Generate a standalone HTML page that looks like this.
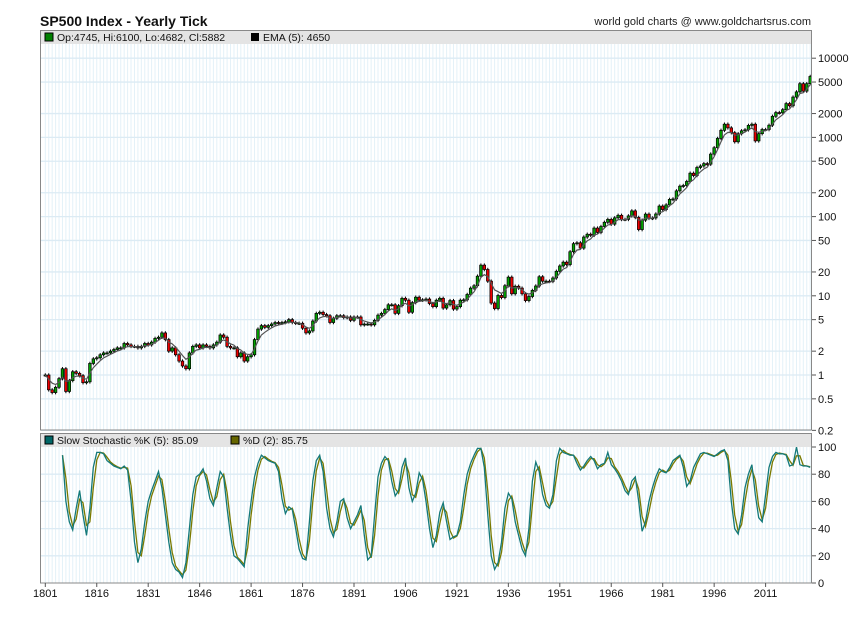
<!DOCTYPE html>
<html><head><meta charset="utf-8">
<style>
html,body{margin:0;padding:0;background:#fff;}
svg{display:block;font-family:"Liberation Sans",Arial,sans-serif;}
</style></head>
<body>
<svg id="chart" width="850" height="619" viewBox="0 0 850 619">
<text x="40" y="26" font-size="14" font-weight="bold" fill="#111">SP500 Index - Yearly Tick</text>
<text x="811" y="25" font-size="11" text-anchor="end" fill="#222">world gold charts @ www.goldchartsrus.com</text>
<g id="grid"></g>
<g id="marks"></g>
<rect x="40.5" y="30.5" width="771" height="13.5" fill="#e4e4e4"/>
<rect x="45" y="33" width="8" height="8" fill="#008000" stroke="#000" stroke-width="1"/>
<text x="57" y="41" font-size="10.5" fill="#111">Op:4745, Hi:6100, Lo:4682, Cl:5882</text>
<rect x="251" y="33" width="8" height="8" fill="#000"/>
<text x="263" y="41" font-size="10.5" fill="#111">EMA (5): 4650</text>
<rect x="40.5" y="30.5" width="771" height="399.5" fill="none" stroke="#888"/>
<rect x="40.5" y="433.5" width="771" height="13.5" fill="#e4e4e4"/>
<rect x="45" y="436" width="8" height="8" fill="#006666" stroke="#000"/>
<text x="57" y="444" font-size="10.5" fill="#111">Slow Stochastic %K (5): 85.09</text>
<rect x="231" y="436" width="8" height="8" fill="#666600" stroke="#000"/>
<text x="243" y="444" font-size="10.5" fill="#111">%D (2): 85.75</text>
<rect x="40.5" y="433.5" width="771" height="149.5" fill="none" stroke="#888"/>
<g id="axes"></g>
</svg>
<script>
const firstYear = 1801;
const closes = [
1.0,0.65,0.6,0.7,0.9,1.2,0.62,0.85,1.1,1.05,
0.98,0.8,0.82,1.4,1.6,1.65,1.8,1.9,1.9,2.0,
2.1,2.2,2.2,2.5,2.4,2.3,2.3,2.2,2.3,2.5,
2.4,2.6,2.9,3.0,3.4,2.8,2.0,2.2,1.8,1.5,
1.3,1.2,1.9,2.3,2.4,2.2,2.4,2.3,2.2,2.4,
2.6,3.2,3.0,2.3,2.2,2.2,1.7,1.9,1.5,1.7,
1.8,2.8,3.8,4.2,4.0,4.2,4.4,4.6,4.5,4.6,
4.7,5.0,4.6,4.5,4.5,3.9,3.4,3.6,4.8,6.0,
6.2,5.8,5.6,4.6,5.2,5.6,5.6,5.3,5.4,4.9,
5.4,5.4,4.3,4.4,4.4,4.3,4.9,5.7,6.0,6.7,
7.7,7.7,6.0,7.5,9.3,8.8,6.2,8.2,9.6,8.8,
8.9,9.1,8.0,7.3,8.8,9.3,7.0,7.7,8.7,6.8,
7.3,8.8,8.9,10.4,12.5,13.4,17.7,24.4,21.5,15.3,
8.1,6.9,10.1,9.5,13.4,17.2,10.6,13.2,12.5,10.6,
8.7,9.8,11.7,13.3,17.4,15.3,15.3,15.2,16.8,20.4,
23.8,26.6,24.8,36,45.5,46.7,40,55.2,59.9,58.1,
71.6,63.1,75,84.8,92.4,80.3,96.5,103.9,92.1,92.2,
102.1,118.1,97.6,68.6,90.2,107.5,95.1,96.1,107.9,135.8,
122.6,140.6,164.9,167.2,211.3,242.2,247.1,277.7,353.4,330.2,
417.1,435.7,466.5,459.3,615.9,740.7,970.4,1229,1469,1320,
1148,880,1112,1212,1248,1418,1468,903,1115,1258,
1258,1426,1848,2059,2044,2239,2674,2507,3231,3756,
4766,3840,4770,5882];
const stochStartYear = 1806;
const stochK = [
94,60,45,39,55,68,50,35,55,85,
96,96,95,90,88,86,85,84,86,83,
60,30,15,25,45,60,68,75,82,70,
50,30,15,10,8,4,15,40,65,78,
80,84,75,62,57,70,82,78,55,35,
20,18,15,12,40,60,78,88,94,92,
90,89,88,82,62,51,56,54,40,25,
18,17,45,75,90,94,82,55,40,34,
45,60,62,48,40,45,50,57,35,17,
20,50,78,88,93,90,75,64,68,85,
92,70,60,66,81,76,60,40,26,35,
52,59,45,32,34,35,45,65,80,88,
94,99,99,85,50,20,10,15,30,55,
66,62,45,35,25,20,40,75,89,82,
65,57,55,65,90,99,96,95,94,94,
88,83,86,90,93,90,84,87,88,96,
87,84,80,75,68,65,75,78,60,38,
45,60,70,78,84,82,81,85,90,92,
94,85,71,75,85,90,95,96,95,94,
93,95,97,98,90,60,40,36,50,70,
80,87,65,48,45,65,85,93,96,95,
95,94,86,87,100,87,86,86,85];
const priceTicks = [10000,5000,2000,1000,500,200,100,50,20,10,5,2,1,0.5,0.2];
const priceTickLabels = ["10000","5000","2000","1000","500","200","100","50","20","10","5","2","1","0.5","0.2"];
const stochTicks = [0,20,40,60,80,100];
const yearTicks = [1801,1816,1831,1846,1861,1876,1891,1906,1921,1936,1951,1966,1981,1996,2011];

const NS = "http://www.w3.org/2000/svg";
function el(tag, attrs, parent){const e=document.createElementNS(NS,tag);for(const k in attrs)e.setAttribute(k,attrs[k]);parent.appendChild(e);return e;}
const xOf = yr => 45.3 + (yr - firstYear) * 3.43;
const yPrice = v => 375 - Math.log10(v) * 79.2;
const yStoch = v => 583 - v * 1.36;

const grid = document.getElementById('grid');
const marks = document.getElementById('marks');
const axes = document.getElementById('axes');

// vertical year grid
for (let yr = firstYear; yr <= 2024; yr++) {
  const x = xOf(yr);
  const g1 = el('line',{x1:x,x2:x,y1:44,y2:430,stroke:'#e3f1f8','stroke-width':1},grid);
  
  
  const g2 = el('line',{x1:x,x2:x,y1:447,y2:583,stroke:'#e3f1f8','stroke-width':1},grid);
  
  
}
priceTicks.forEach((v,i) => {
  const y = yPrice(v);
  const g = el('line',{x1:41,x2:811,y1:y,y2:y,stroke:'#dcebf4','stroke-width':1.3},grid);
  
  
  const t = el('line',{x1:812,x2:816,y1:y,y2:y,stroke:'#555'},axes);
  
  
  const l = el('text',{x:818,y:y+4,'font-size':11,fill:'#111'},axes);
  l.textContent = priceTickLabels[i];
  
  
});
stochTicks.forEach(v => {
  const y = yStoch(v);
  if (v > 0 && v < 100) {
    const g = el('line',{x1:41,x2:811,y1:y,y2:y,stroke:'#dcebf4','stroke-width':1.3},grid);
    
    
  }
  const t = el('line',{x1:812,x2:816,y1:y,y2:y,stroke:'#555'},axes);
  
  
  const l = el('text',{x:818,y:y+4,'font-size':11,fill:'#111'},axes);
  l.textContent = String(v);
  
  
});
yearTicks.forEach(yr => {
  const x = xOf(yr);
  const t = el('line',{x1:x,x2:x,y1:583,y2:587,stroke:'#555'},axes);
  
  
  const l = el('text',{x:x,y:597,'font-size':11,'text-anchor':'middle',fill:'#111'},axes);
  l.textContent = String(yr);
  
  
});

// EMA(5)
const ema = [];
closes.forEach((c,i) => { ema.push(i === 0 ? c : ema[i-1] + (c - ema[i-1]) / 3); });

// candles
closes.forEach((c,i) => {
  const o = i === 0 ? c : closes[i-1];
  const hi = Math.max(o,c) * 1.05, lo = Math.min(o,c) * 0.95;
  const x = xOf(firstYear + i);
  const w = el('line',{x1:x,x2:x,y1:yPrice(hi),y2:yPrice(lo),stroke:'#000','stroke-width':1},marks);
  
  
  const yt = yPrice(Math.max(o,c)), yb = yPrice(Math.min(o,c));
  const b = el('rect',{x:x-1.3,y:yt,width:2.6,height:Math.max(1,yb-yt),fill:c>=o?'#00a000':'#ee0000',stroke:'#000','stroke-width':0.7},marks);
  
  
});
const emaPts = ema.map((v,i) => xOf(firstYear+i).toFixed(1)+','+yPrice(v).toFixed(1)).join(' ');
const emaLine = el('polyline',{points:emaPts,fill:'none',stroke:'#555','stroke-width':1.2},marks);



// stochastic
const stochD = stochK.map((v,i) => i === 0 ? v : (v + stochK[i-1]) / 2);
const dPts = stochD.map((v,i) => xOf(stochStartYear+i).toFixed(1)+','+yStoch(v).toFixed(1)).join(' ');
const kPts = stochK.map((v,i) => xOf(stochStartYear+i).toFixed(1)+','+yStoch(v).toFixed(1)).join(' ');
const dLine = el('polyline',{points:dPts,fill:'none',stroke:'#7a7a00','stroke-width':1.3},marks);


const kLine = el('polyline',{points:kPts,fill:'none',stroke:'#13797a','stroke-width':1.3},marks);


</script>
</body></html>
